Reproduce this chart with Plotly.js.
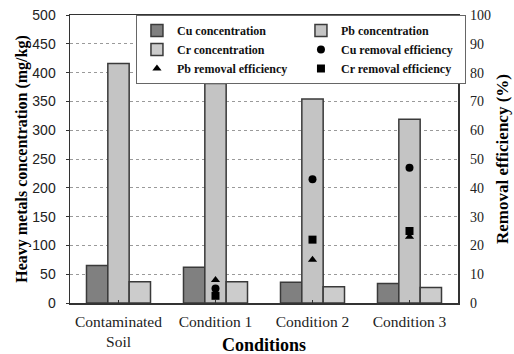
<!DOCTYPE html>
<html>
<head>
<meta charset="utf-8">
<script src="https://cdn.plot.ly/plotly-3.0.1.min.js"></script>
<style>html,body{margin:0;padding:0;background:#fff;}#chart{width:514px;height:354px;}</style>
</head>
<body>
<div id="chart"></div>
<script>
// Heavy metal concentrations (mg/kg) and removal efficiencies (%) per condition
const conditions = ['Contaminated<br>Soil', 'Condition 1', 'Condition 2', 'Condition 3'];
const cuConc = [65, 62, 36, 34];
const pbConc = [416, 381, 354, 319];
const crConc = [37, 37, 28, 27];

const effConditions = ['Condition 1', 'Condition 2', 'Condition 3'];
const cuEff = [5, 43, 47];
const pbEff = [8, 15, 23];
const crEff = [2.5, 22, 25];

const serif = 'Liberation Serif, Times New Roman, serif';
const barLine = {color: '#3a3a3a', width: 1.5};

const traces = [
  {type: 'bar', name: 'Cu concentration', x: conditions, y: cuConc,
   marker: {color: '#808080', line: barLine}},
  {type: 'bar', name: 'Pb concentration', x: conditions, y: pbConc,
   marker: {color: '#c4c4c4', line: barLine}},
  {type: 'bar', name: 'Cr concentration', x: conditions, y: crConc,
   marker: {color: '#cccccc', line: barLine}},
  {type: 'scatter', mode: 'markers', name: 'Cu removal efficiency', x: effConditions, y: cuEff,
   yaxis: 'y2', marker: {symbol: 'circle', size: 8, color: '#000'}},
  {type: 'scatter', mode: 'markers', name: 'Pb removal efficiency', x: effConditions, y: pbEff,
   yaxis: 'y2', marker: {symbol: 'triangle-up', size: 8, color: '#000'}},
  {type: 'scatter', mode: 'markers', name: 'Cr removal efficiency', x: effConditions, y: crEff,
   yaxis: 'y2', marker: {symbol: 'square', size: 8, color: '#000'}}
];

const layout = {
  width: 514, height: 354,
  margin: {l: 70, r: 56, t: 15, b: 51},
  paper_bgcolor: '#fff', plot_bgcolor: '#fff',
  barmode: 'group', bargap: 0.34, bargroupgap: 0,
  font: {family: serif, color: '#000', size: 13},
  xaxis: {
    categoryorder: 'array', categoryarray: conditions,
    showline: true, linecolor: '#333', linewidth: 1.5, mirror: true,
    ticks: 'inside', ticklen: 3, tickcolor: '#333',
    ticklabelstandoff: 4,
    tickfont: {family: serif, size: 15.5, color: '#222'}
  },
  yaxis: {
    range: [0, 500], dtick: 50,
    showline: true, linecolor: '#333', linewidth: 1.5, mirror: true,
    ticks: 'outside', ticklen: 3, tickcolor: '#333',
    ticklabelstandoff: 7,
    showgrid: true, gridcolor: '#9a9a9a', griddash: 'dot', gridwidth: 1,
    zeroline: false,
    tickfont: {family: 'Liberation Sans, Arial, sans-serif', size: 14, color: '#222'},
    title: {text: '<b>Heavy metals concentration (mg/kg)</b>', font: {family: serif, size: 16}, standoff: 0}
  },
  yaxis2: {
    overlaying: 'y', side: 'right', range: [0, 100], dtick: 10,
    showgrid: false, zeroline: false, showline: false, ticks: '',
    ticklabelstandoff: 11,
    tickfont: {family: serif, size: 14, color: '#222'},
    title: {text: '<b>Removal efficiency (%)</b>', font: {family: serif, size: 17}, standoff: 6}
  },
  annotations: [{
    text: '<b>Conditions</b>', xref: 'paper', yref: 'paper',
    x: 0.5, y: -0.146, xanchor: 'center', yanchor: 'middle', showarrow: false,
    font: {family: serif, size: 18, color: '#000'}
  }],
  showlegend: true,
  legend: {
    orientation: 'h', x: 0.17, xanchor: 'left', y: 1.0, yanchor: 'top',
    bgcolor: '#fff', bordercolor: '#666', borderwidth: 1,
    entrywidth: 119, entrywidthmode: 'pixels',
    font: {family: serif, size: 12, color: '#111', weight: 'bold'},
    itemwidth: 30, tracegroupgap: 0
  }
};

Plotly.newPlot('chart', traces, layout, {displayModeBar: false, staticPlot: true});
</script>
</body>
</html>
